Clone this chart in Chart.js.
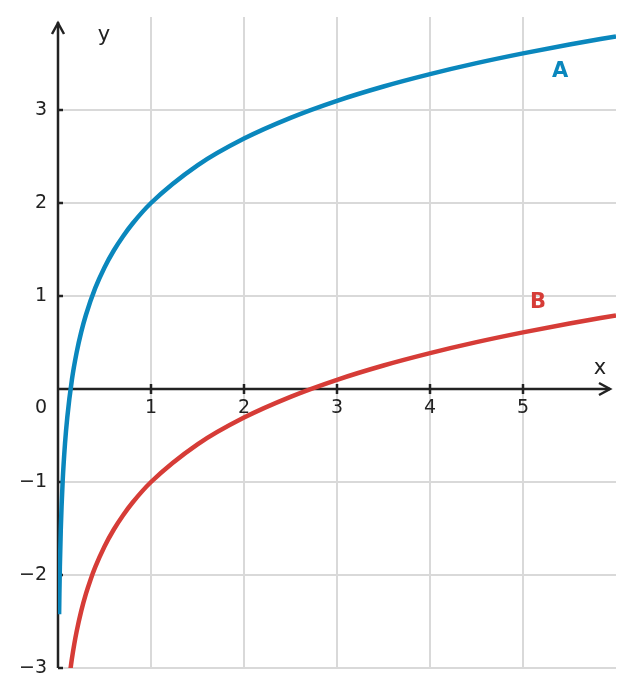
<!DOCTYPE html>
<html>
<head>
<meta charset="utf-8">
<script src="https://cdn.jsdelivr.net/npm/chart.js@4"></script>
<style>
  html, body { margin: 0; padding: 0; background: #fff; }
  #wrap { width: 633px; height: 696px; }
</style>
</head>
<body>
<div id="wrap"><canvas id="chart" width="633" height="696"></canvas></div>
<script>
// values
const xA = [0.012, 0.015, 0.02, 0.03, 0.05, 0.075, 0.1, 0.15, 0.2, 0.25, 0.3, 0.4, 0.5, 0.6, 0.7, 0.8, 1, 1.5, 2, 2.5, 3, 3.5, 4, 4.5, 5, 5.5, 6];
const yA = [-2.423, -2.200, -1.912, -1.507, -0.996, -0.590, -0.303, 0.103, 0.391, 0.614, 0.796, 1.084, 1.307, 1.489, 1.643, 1.777, 2.000, 2.405, 2.693, 2.916, 3.099, 3.253, 3.386, 3.504, 3.609, 3.705, 3.792];
const xB = [0.13, 0.15, 0.175, 0.2, 0.25, 0.3, 0.35, 0.4, 0.5, 0.6, 0.7, 0.8, 1, 1.5, 2, 2.5, 3, 3.5, 4, 4.5, 5, 5.5, 6];
const yB = [-3.040, -2.897, -2.743, -2.609, -2.386, -2.204, -2.050, -1.916, -1.693, -1.511, -1.357, -1.223, -1.000, -0.595, -0.307, -0.084, 0.099, 0.253, 0.386, 0.504, 0.609, 0.705, 0.792];
const xTicks = [1, 2, 3, 4, 5];
const yTicks = [-3, -2, -1, 1, 2, 3];

const BLUE = '#0a87bd';
const RED = '#d63c37';
const INK = '#222222';
const GRID = '#d9d9d9';

const fmt = v => (v < 0 ? '\u2212' + Math.abs(v) : String(v));

const axesPlugin = {
    id: 'mathAxes',
    beforeDatasetsDraw(chart) {
        const ctx = chart.ctx;
        const sx = chart.scales.x, sy = chart.scales.y;
        const area = chart.chartArea;
        ctx.save();
        // grid
        ctx.strokeStyle = GRID;
        ctx.lineWidth = 2;
        xTicks.forEach(v => {
            const px = Math.round(sx.getPixelForValue(v));
            ctx.beginPath();
            ctx.moveTo(px, area.top);
            ctx.lineTo(px, area.bottom);
            ctx.stroke();
        });
        yTicks.forEach(v => {
            const py = Math.round(sy.getPixelForValue(v));
            ctx.beginPath();
            ctx.moveTo(area.left, py);
            ctx.lineTo(area.right, py);
            ctx.stroke();
        });

        const x0 = sx.getPixelForValue(0);
        const y0 = sy.getPixelForValue(0);
        ctx.strokeStyle = INK;
        ctx.lineWidth = 2.5;
        ctx.lineCap = 'butt';
        // y axis with arrow
        ctx.beginPath();
        ctx.moveTo(x0, area.bottom);
        ctx.lineTo(x0, area.top + 5);
        ctx.stroke();
        ctx.beginPath();
        ctx.moveTo(x0 - 6, area.top + 17);
        ctx.lineTo(x0, area.top + 6);
        ctx.lineTo(x0 + 6, area.top + 17);
        ctx.stroke();
        // x axis with arrow
        const xEnd = area.right - 6;
        ctx.beginPath();
        ctx.moveTo(x0, y0);
        ctx.lineTo(xEnd, y0);
        ctx.stroke();
        ctx.beginPath();
        ctx.moveTo(xEnd - 11, y0 - 6);
        ctx.lineTo(xEnd, y0);
        ctx.lineTo(xEnd - 11, y0 + 6);
        ctx.stroke();

        // tick marks
        xTicks.forEach(v => {
            const px = Math.round(sx.getPixelForValue(v));
            ctx.beginPath();
            ctx.moveTo(px, y0 - 5);
            ctx.lineTo(px, y0 + 5);
            ctx.stroke();
        });
        yTicks.forEach(v => {
            const py = Math.round(sy.getPixelForValue(v));
            ctx.beginPath();
            ctx.moveTo(x0, py);
            ctx.lineTo(x0 + 5, py);
            ctx.stroke();
        });

        // tick labels
        ctx.fillStyle = INK;
        ctx.font = '19px "DejaVu Sans"';
        ctx.textAlign = 'center';
        ctx.textBaseline = 'middle';
        xTicks.forEach(v => {
            ctx.fillText(fmt(v), sx.getPixelForValue(v), y0 + 19);
        });
        ctx.textAlign = 'right';
        yTicks.forEach(v => {
            ctx.fillText(fmt(v), x0 - 11, sy.getPixelForValue(v));
        });
        ctx.fillText('0', x0 - 11, y0 + 19);

        // axis names
        ctx.textAlign = 'center';
        ctx.font = '21px "DejaVu Sans"';
        ctx.fillText('x', 600, y0 - 20);
        ctx.fillText('y', 104, 36);
        ctx.restore();
    },
    afterDatasetsDraw(chart) {
        const ctx = chart.ctx;
        const sx = chart.scales.x, sy = chart.scales.y;
        ctx.save();
        ctx.font = 'bold 21px "DejaVu Sans"';
        ctx.textAlign = 'center';
        ctx.textBaseline = 'middle';
        ctx.fillStyle = BLUE;
        ctx.fillText('A', sx.getPixelForValue(5.4), sy.getPixelForValue(3.41));
        ctx.fillStyle = RED;
        ctx.fillText('B', sx.getPixelForValue(5.16), sy.getPixelForValue(0.93));
        ctx.restore();
    }
};

const toPoints = (xs, ys) => xs.map((x, i) => ({ x: x, y: ys[i] }));

new Chart(document.getElementById('chart'), {
    type: 'scatter',
    data: {
        datasets: [
            {
                label: 'A',
                data: toPoints(xA, yA),
                showLine: true,
                borderColor: BLUE,
                borderWidth: 4.5,
                pointRadius: 0,
                cubicInterpolationMode: 'monotone'
            },
            {
                label: 'B',
                data: toPoints(xB, yB),
                showLine: true,
                borderColor: RED,
                borderWidth: 4.5,
                pointRadius: 0,
                cubicInterpolationMode: 'monotone'
            }
        ]
    },
    options: {
        responsive: false,
        animation: false,
        layout: { padding: { left: 58, right: 17, top: 17, bottom: 28 } },
        plugins: {
            legend: { display: false },
            tooltip: { enabled: false }
        },
        scales: {
            x: { type: 'linear', min: 0, max: 6, display: false },
            y: { type: 'linear', min: -3, max: 4, display: false }
        }
    },
    plugins: [axesPlugin]
});
</script>
</body>
</html>
